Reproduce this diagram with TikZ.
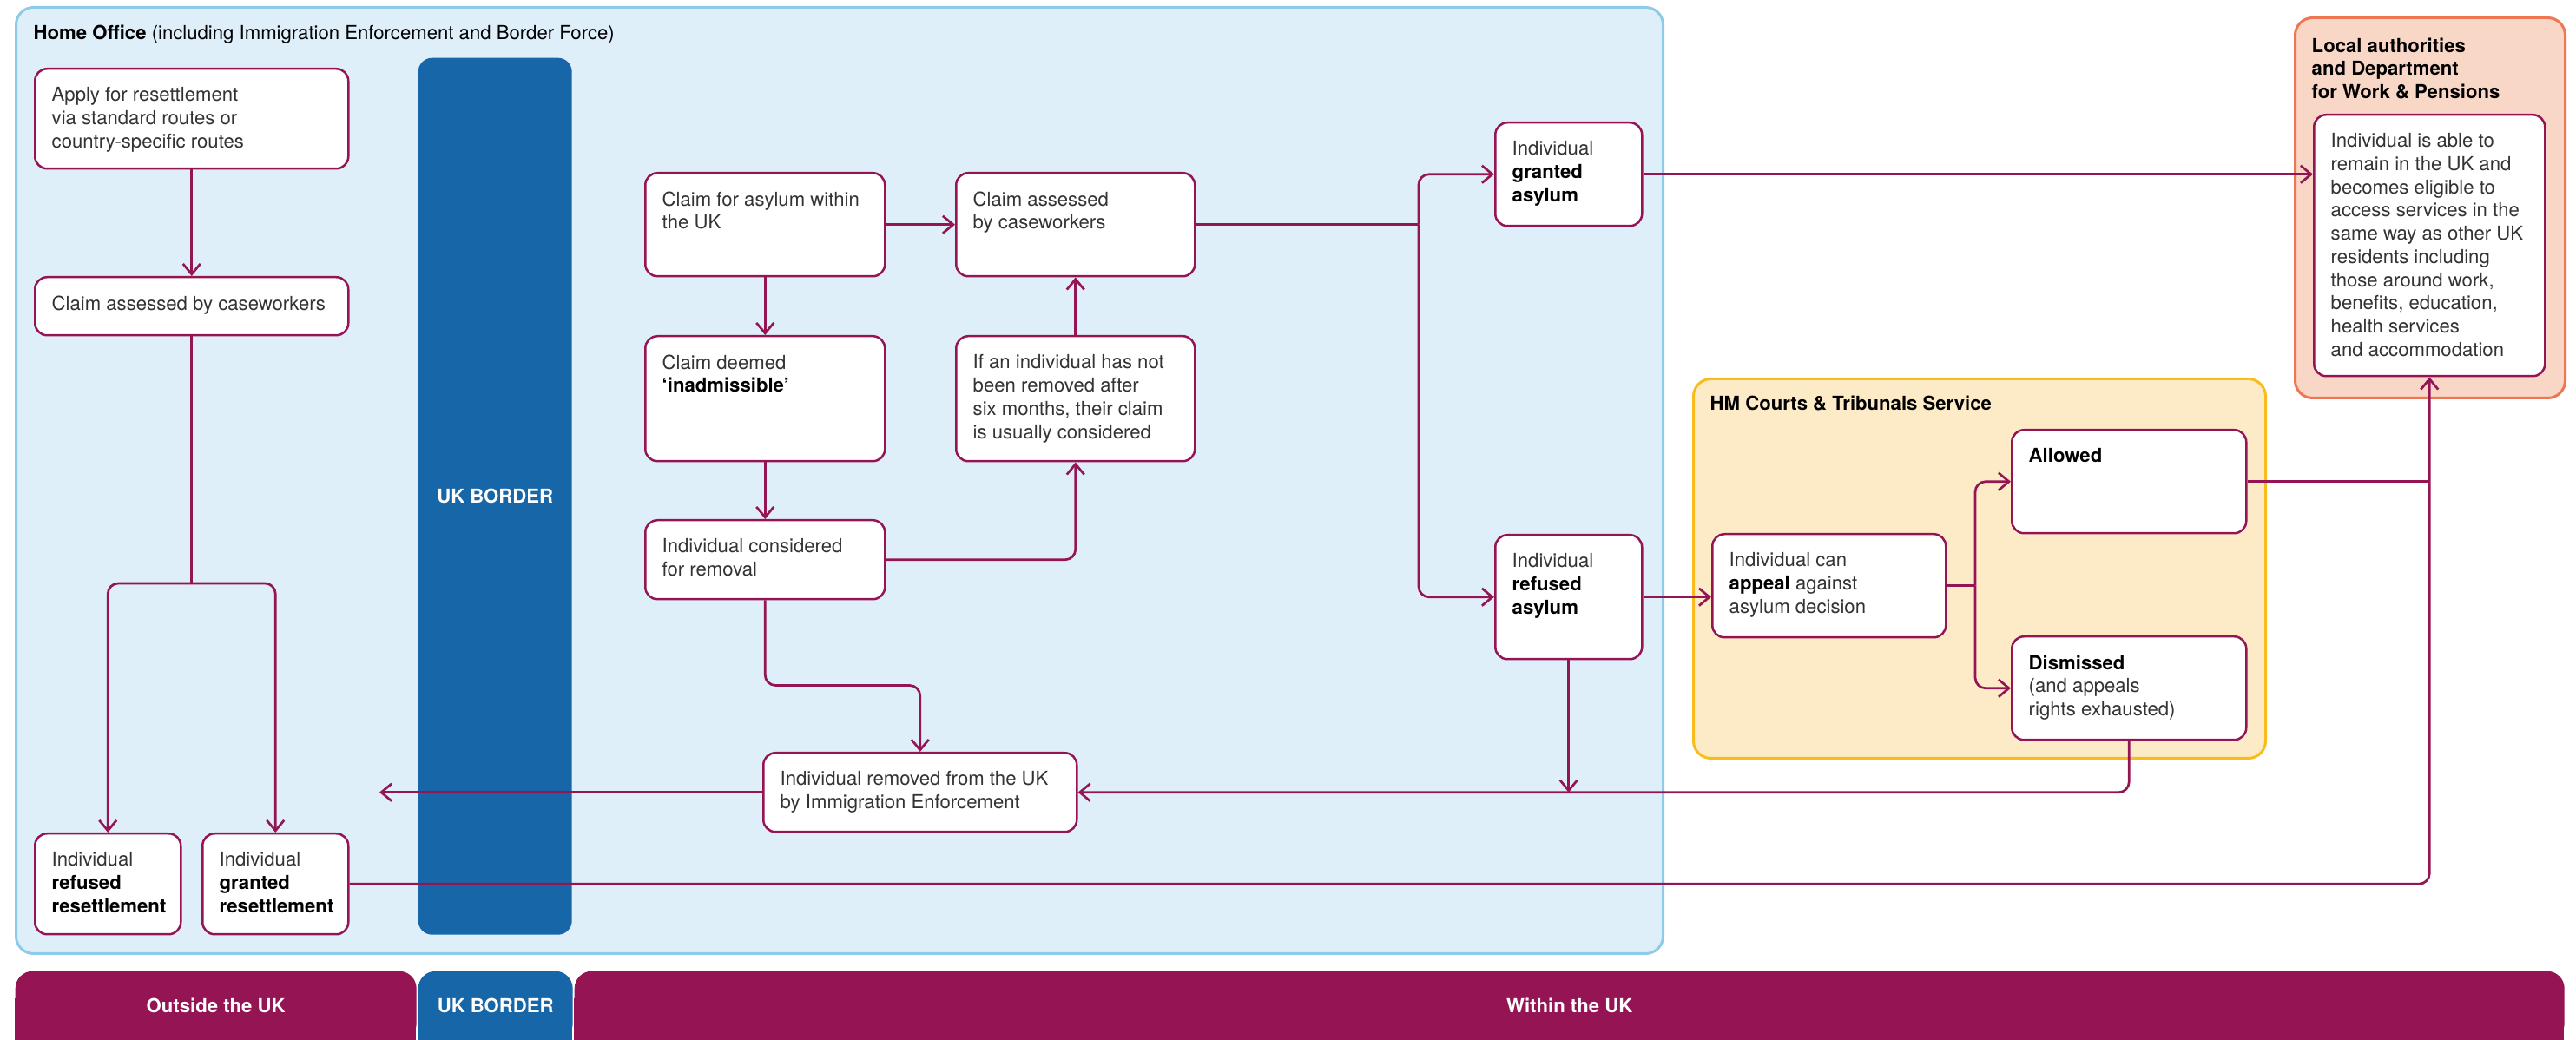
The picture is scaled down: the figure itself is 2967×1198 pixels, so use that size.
\documentclass[tikz,border=0pt]{standalone}
\usepackage{fontspec}
\setmainfont{TeX Gyre Heros}
\usepackage{xcolor}
\usepackage{tikz}
\usetikzlibrary{arrows.meta, calc, positioning}

\definecolor{plum}{HTML}{951554}
\definecolor{homefill}{HTML}{DFEFFA}
\definecolor{homeline}{HTML}{8DCBEA}
\definecolor{borderblue}{HTML}{1767A8}
\definecolor{courtfill}{HTML}{FDEBC7}
\definecolor{courtline}{HTML}{F8BD1C}
\definecolor{lafill}{HTML}{F9D7C7}
\definecolor{laline}{HTML}{EE7652}
\definecolor{bodytext}{HTML}{333333}

\newcommand{\flowfont}{\fontsize{6.3}{7.6}\selectfont}
\def\turn{1.2mm}
\def\padX{2mm}
\def\padY{2.2mm}

\tikzset{
    flowbox/.style={draw=plum, fill=white, line width=0.25mm, rounded corners=1.4mm, inner sep=0},
    flowtext/.style={font=\flowfont, text=bodytext, align=left, inner sep=0},
    titletext/.style={font=\flowfont, text=black, align=left, inner sep=0},
    region/.style={line width=0.3mm, rounded corners=2mm, inner sep=0},
    band/.style={fill=plum, text=white, font=\flowfont\bfseries, rounded corners=2mm, inner sep=0},
    flow/.style={draw=plum, line width=0.27mm},
    flowarrow/.style={flow, -{Straight Barb[length=1.2mm, width=2mm]}}
}

% box: name, left, top, width, height, text
\newcommand{\flowbox}[6]{%
    \node[flowbox, minimum width=#4*0.1mm, minimum height=#5*0.1mm, anchor=north west] (#1) at (#2,#3) {};
    \node[flowtext, anchor=north west] (#1-txt) at ([xshift=\padX, yshift=-\padY]#1.north west) {#6};
}

\begin{document}
\begin{tikzpicture}[x=0.1mm, y=-0.1mm]
    \useasboundingbox (0,0) rectangle (2967,1198);

    % Regions
    \node[region, draw=homeline, fill=homefill, minimum width=1897*0.1mm, minimum height=1090*0.1mm, anchor=north west] (homeoffice) at (17,7) {};
    \node[titletext, anchor=west] (hotitle) at (38,40) {\textbf{Home Office} (including Immigration Enforcement and Border Force)};

    \node[region, draw=courtline, fill=courtfill, minimum width=659*0.1mm, minimum height=437*0.1mm, anchor=north west] (hmcts) at (1949,435) {};
    \node[titletext, anchor=west] (hmctstitle) at (1969,465) {\textbf{HM Courts \& Tribunals Service}};

    \node[region, draw=laline, fill=lafill, minimum width=311*0.1mm, minimum height=438*0.1mm, anchor=north west] (lagroup) at (2642,19) {};
    \node[titletext, anchor=west] (latitle) at (2662,79) {\textbf{Local authorities}\\\textbf{and Department}\\\textbf{for Work \& Pensions}};

    \node[fill=borderblue, rounded corners=1.6mm, minimum width=177*0.1mm, minimum height=1010*0.1mm, anchor=north west, text=white, font=\flowfont\bfseries] (borderbar) at (481,66) {UK BORDER};

    % Bottom bands
    \fill[plum] (17,1150) rectangle (479,1198);
    \fill[borderblue] (481,1150) rectangle (659,1198);
    \fill[plum] (661,1150) rectangle (2953,1198);
    \node[band, minimum width=462*0.1mm, minimum height=80*0.1mm, anchor=north west] (outside) at (17,1118) {Outside the UK};
    \node[band, fill=borderblue, minimum width=178*0.1mm, minimum height=80*0.1mm, anchor=north west] (border) at (481,1118) {UK BORDER};
    \node[band, minimum width=2292*0.1mm, minimum height=80*0.1mm, anchor=north west] (within) at (661,1118) {Within the UK};

    % Boxes
    \flowbox{apply}{39}{78}{361}{115}{Apply for resettlement\\via standard routes or\\country-specific routes}
    \flowbox{assessOut}{39}{318}{361}{67}{Claim assessed by caseworkers}
    \flowbox{refusedRes}{39}{959}{168}{116}{Individual\\\textcolor{black}{\textbf{refused}}\\\textcolor{black}{\textbf{resettlement}}}
    \flowbox{grantedRes}{232}{959}{168}{116}{Individual\\\textcolor{black}{\textbf{granted}}\\\textcolor{black}{\textbf{resettlement}}}
    \flowbox{claimUK}{742}{198}{276}{119}{Claim for asylum within\\the UK}
    \flowbox{assessIn}{1100}{198}{275}{119}{Claim assessed\\by caseworkers}
    \flowbox{inadmissible}{742}{386}{276}{144}{Claim deemed\\\textcolor{black}{\textbf{‘inadmissible’}}}
    \flowbox{sixMonths}{1100}{386}{275}{144}{If an individual has not\\been removed after\\six months, their claim\\is usually considered}
    \flowbox{considered}{742}{598}{276}{91}{Individual considered\\for removal}
    \flowbox{removed}{878}{866}{361}{91}{Individual removed from the UK\\by Immigration Enforcement}
    \flowbox{grantedAs}{1721}{140}{169}{119}{Individual\\\textcolor{black}{\textbf{granted}}\\\textcolor{black}{\textbf{asylum}}}
    \flowbox{refusedAs}{1721}{615}{169}{143}{Individual\\\textcolor{black}{\textbf{refused}}\\\textcolor{black}{\textbf{asylum}}}
    \flowbox{appeal}{1971}{614}{269}{119}{Individual can\\\textcolor{black}{\textbf{appeal}} against\\asylum decision}
    \flowbox{allowed}{2316}{494}{270}{119}{\textcolor{black}{\textbf{Allowed}}}
    \flowbox{dismissed}{2316}{732}{270}{119}{\textcolor{black}{\textbf{Dismissed}}\\(and appeals\\rights exhausted)}
    \flowbox{laInner}{2664}{131}{266}{301}{Individual is able to\\remain in the UK and\\becomes eligible to\\access services in the\\same way as other UK\\residents including\\those around work,\\benefits, education,\\health services\\and accommodation}

    % Resettlement route
    \coordinate (resSplit) at (assessOut.south |- 0,672);
    \draw[flowarrow] (apply.south) -- (assessOut.north);
    \draw[flow] (assessOut.south) -- (resSplit);
    \draw[flowarrow, rounded corners=\turn] (resSplit) -| (refusedRes.north);
    \draw[flowarrow, rounded corners=\turn] (resSplit) -| (grantedRes.north);

    % Asylum claim within the UK
    \draw[flowarrow] (claimUK.east) -- (assessIn.west);
    \draw[flowarrow] (claimUK.south) -- (inadmissible.north);
    \draw[flowarrow] (inadmissible.south) -- (considered.north);
    \draw[flowarrow, rounded corners=\turn] (considered.east) -| (sixMonths.south);
    \draw[flowarrow] (sixMonths.north) -- (assessIn.south);
    \draw[flowarrow, rounded corners=\turn] (considered.south) -- ++(0,98) -| (removed.north);
    \coordinate (exitUK) at (removed.west -| 437,0);
    \draw[flowarrow] (removed.west) -- (exitUK);

    % Decision
    \coordinate (decision) at (assessIn.east -| 1634,0);
    \draw[flow] (assessIn.east) -- (decision);
    \draw[flowarrow, rounded corners=\turn] (decision) |- (grantedAs.west);
    \draw[flowarrow, rounded corners=\turn] (decision) |- (refusedAs.west);
    \draw[flowarrow] (grantedAs.east) -- (grantedAs.east -| laInner.west);
    \draw[flowarrow] (refusedAs.east) -- (refusedAs.east -| appeal.west);
    \draw[flowarrow] (refusedAs.south) -- (refusedAs.south |- removed.east);

    % Appeal
    \coordinate (appealSplit) at (appeal.east -| 2275,0);
    \draw[flow] (appeal.east) -- (appealSplit);
    \draw[flowarrow, rounded corners=\turn] (appealSplit) |- (allowed.west);
    \draw[flowarrow, rounded corners=\turn] (appealSplit) |- (dismissed.west);
    \draw[flowarrow, rounded corners=\turn] (dismissed.south) |- (removed.east);
    \draw[flow] (allowed.east) -- (allowed.east -| laInner.south);
    \draw[flowarrow, rounded corners=\turn] (grantedRes.east) -| (laInner.south);
\end{tikzpicture}
\end{document}
